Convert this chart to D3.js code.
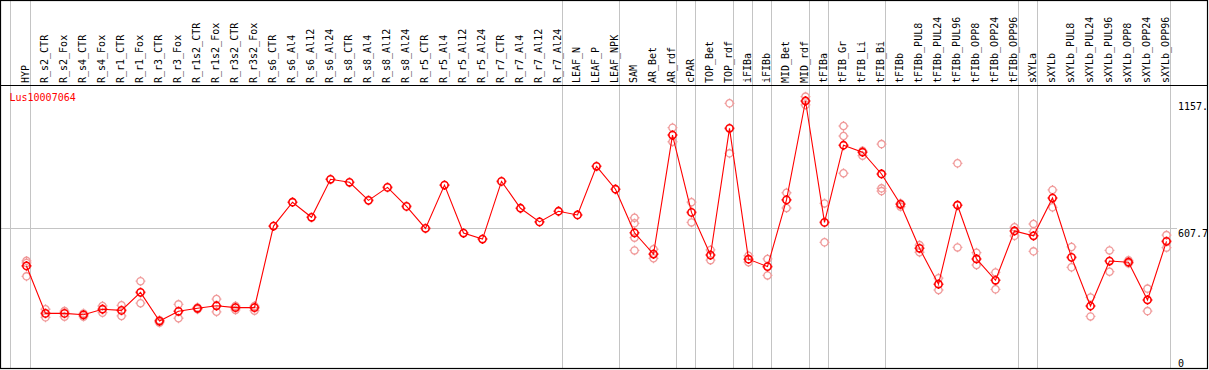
<!DOCTYPE html>
<html>
<head>
<meta charset="utf-8">
<script src="https://cdn.jsdelivr.net/npm/d3@7"></script>
<style>
  body { margin: 0; background: #fff; }
  svg { display: block; }
  text { font-family: "DejaVu Sans Mono", monospace; font-size: 10px; }
</style>
</head>
<body>
<div id="chart"></div>
<script>
const geneName = "Lus10007064";

const samples = [
    "HYP", "R_s2_CTR", "R_s2_Fox", "R_s4_CTR", "R_s4_Fox", "R_r1_CTR", "R_r1_Fox",
    "R_r3_CTR", "R_r3_Fox", "R_r1s2_CTR", "R_r1s2_Fox", "R_r3s2_CTR", "R_r3s2_Fox",
    "R_s6_CTR", "R_s6_Al4", "R_s6_Al12", "R_s6_Al24", "R_s8_CTR", "R_s8_Al4", "R_s8_Al12",
    "R_s8_Al24", "R_r5_CTR", "R_r5_Al4", "R_r5_Al12", "R_r5_Al24", "R_r7_CTR", "R_r7_Al4",
    "R_r7_Al12", "R_r7_Al24", "LEAF_N", "LEAF_P", "LEAF_NPK", "SAM", "AR_Bet", "AR_rdf",
    "cPAR", "TOP_Bet", "TOP_rdf", "iFIBa", "iFIBb", "MID_Bet", "MID_rdf", "tFIBa",
    "tFIB_Gr", "tFIB_Li", "tFIB_Bi", "tFIBb", "tFIBb_PUL8", "tFIBb_PUL24", "tFIBb_PUL96",
    "tFIBb_OPP8", "tFIBb_OPP24", "tFIBb_OPP96", "sXYLa", "sXYLb", "sXYLb_PUL8",
    "sXYLb_PUL24", "sXYLb_PUL96", "sXYLb_OPP8", "sXYLb_OPP24", "sXYLb_OPP96"
];

const means = [
    445, 240, 240, 234, 258, 253, 331, 207, 249, 262, 273, 265, 265,
    617, 720, 655, 819, 806, 728, 784, 702, 607, 794, 587, 561, 810, 694, 635, 681,
    665, 875, 776, 588, 496, 1010, 676, 492, 1039, 474, 442, 730, 1157, 633,
    966, 936, 842, 711, 521, 366, 707, 475, 383, 596, 575, 738, 482, 272, 466, 461, 298, 551
];

const replicates = [
    [467, 458, 400], [258, 223], [250, 226], [240, 226], [272, 243], [275, 229], [379, 284],
    [211, 200], [279, 219], [266, 258], [302, 247], [272, 255], [272, 252],
    [], [], [], [], [], [], [], [], [], [], [], [], [], [], [], [],
    [], [], [],
    [653, 629, 567, 512], [517, 478], [1042, 981], [720, 633], [514, 470], [1147, 931],
    [489, 461], [475, 404], [761, 695], [1176, 1140], [715, 547],
    [1049, 1006, 845], [942, 921], [971, 780, 768], [715, 701], [535, 504], [392, 341],
    [888, 525], [502, 449], [417, 344], [612, 575], [626, 593, 508], [773, 698],
    [527, 439], [309, 227], [512, 420], [469, 456], [347, 250], [578, 524]
];

// index of the last column in each group, a grey rule follows it
const groupEnds = [0, 28, 31, 34, 35, 37, 38, 39, 41, 42, 45, 52, 53, 60];

const yTicks = [0, 607.7, 1157];
const yTickLabels = ["0", "607.7", "1157."];
const yGrid = [607.7];

const width = 1209;
const height = 370;
const headerBottom = 85.5;
const plotBottom = 368.5;

const svg = d3.select("#chart")
    .append("svg")
    .attr("width", width)
    .attr("height", height);

const x = d3.scalePoint()
    .domain(samples)
    .range([26.5, 1166.5]);

const y = d3.scaleLinear()
    .domain([0, 1157])
    .range([369, 101]);

const grey = "#c4c4c4";

// group separators, running through header and plot
const sepX = [Math.floor(x(samples[0]) - 16) + 0.5]
    .concat(groupEnds.map(i => Math.floor(x(samples[i]) + 4) + 0.5));

svg.selectAll("line.sep")
    .data(sepX)
    .enter()
    .append("line")
    .attr("class", "sep")
    .attr("x1", d => d)
    .attr("x2", d => d)
    .attr("y1", 0)
    .attr("y2", plotBottom)
    .attr("stroke", grey)
    .attr("stroke-width", 1);

svg.selectAll("line.grid")
    .data(yGrid)
    .enter()
    .append("line")
    .attr("class", "grid")
    .attr("x1", 1)
    .attr("x2", 1177)
    .attr("y1", d => Math.round(y(d)) + 0.5)
    .attr("y2", d => Math.round(y(d)) + 0.5)
    .attr("stroke", grey)
    .attr("stroke-width", 1);

// sample labels in the header
svg.selectAll("text.sample")
    .data(samples)
    .enter()
    .append("text")
    .attr("class", "sample")
    .attr("transform", d => `translate(${x(d) + 2.5},83) rotate(-90)`)
    .attr("fill", "#000")
    .text(d => d);

// little circle with four nubs, like the original markers
function marker(sel, r) {
    sel.append("circle")
        .attr("r", r)
        .attr("fill", "none");
    sel.append("path")
        .attr("fill", "none")
        .attr("d", `M0,${-r - 1.3}V${-r}M0,${r}V${r + 1.3}M${-r - 1.3},0H${-r}M${r},0H${r + 1.3}`);
}

const repPoints = [];
replicates.forEach((reps, i) => reps.forEach(v => repPoints.push({ s: samples[i], v: v })));

svg.append("g")
    .selectAll("g")
    .data(repPoints)
    .enter()
    .append("g")
    .attr("transform", d => `translate(${x(d.s)},${y(d.v)})`)
    .attr("stroke", "#f09a9a")
    .attr("stroke-width", 1.3)
    .call(marker, 3.6);

const line = d3.line()
    .x((d, i) => x(samples[i]))
    .y(d => y(d));

svg.append("path")
    .datum(means)
    .attr("d", line)
    .attr("fill", "none")
    .attr("stroke", "#ff0000")
    .attr("stroke-width", 1.1);

svg.append("g")
    .selectAll("g")
    .data(means)
    .enter()
    .append("g")
    .attr("transform", (d, i) => `translate(${x(samples[i])},${y(d)})`)
    .attr("stroke", "#ff0000")
    .attr("stroke-width", 1.6)
    .call(marker, 3.6);

// value labels on the right
svg.selectAll("text.ytick")
    .data(yTicks)
    .enter()
    .append("text")
    .attr("class", "ytick")
    .attr("x", 1178)
    .attr("y", d => Math.min(y(d) + 8.5, 366.5))
    .attr("fill", "#000")
    .text((d, i) => yTickLabels[i]);

svg.append("text")
    .attr("x", 9.5)
    .attr("y", 101)
    .attr("fill", "#ff0000")
    .text(geneName);

// frame and header rule
svg.append("rect")
    .attr("x", 0.5)
    .attr("y", 0.5)
    .attr("width", 1207)
    .attr("height", plotBottom - 0.5)
    .attr("fill", "none")
    .attr("stroke", "#000")
    .attr("stroke-width", 1.2);

svg.append("line")
    .attr("x1", 0)
    .attr("x2", 1208)
    .attr("y1", headerBottom)
    .attr("y2", headerBottom)
    .attr("stroke", "#000")
    .attr("stroke-width", 1.2);
</script>
</body>
</html>
